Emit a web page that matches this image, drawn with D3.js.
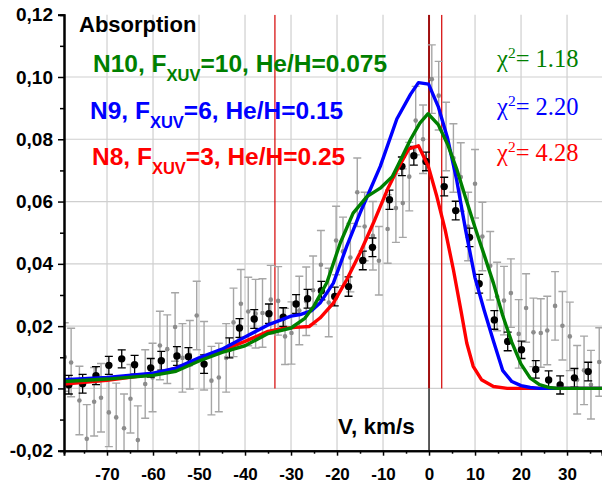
<!DOCTYPE html>
<html><head><meta charset="utf-8">
<script src="https://cdn.jsdelivr.net/npm/d3@7"></script>
<style>
html,body{margin:0;padding:0;background:#fff;}
svg{display:block;}
</style></head>
<body>
<div id="chart"></div>
<script>
// ---- data ----
const xTicks = [-70, -60, -50, -40, -30, -20, -10, 0, 10, 20, 30];
const yTicks = [-0.02, 0.00, 0.02, 0.04, 0.06, 0.08, 0.10, 0.12];

// observed (gray, individual)
const grayV = [-79.2, -77.8, -76.0, -74.4, -72.8, -71.3, -69.6, -68.0, -66.3, -64.9, -63.3, -61.7, -60.1, -58.5, -56.9, -55.2, -53.6, -52.0, -50.5, -48.9, -47.3, -45.7, -44.1, -42.5, -40.9, -39.3, -37.7, -36.2, -34.4, -32.8, -31.3, -29.9, -28.2, -26.7, -25.2, -23.5, -21.8, -20.2, -18.7, -17.1, -15.6, -14.0, -12.2, -10.9, -9.0, -7.2, -5.7, -4.3, -2.9, -1.3, 0.6, 2.1, 3.7, 5.3, 6.9, 8.5, 10.0, 11.6, 13.3, 14.8, 16.3, 17.8, 19.5, 21.1, 22.7, 24.3, 25.7, 27.4, 29.0, 30.6, 32.2, 33.7, 35.2, 37.0];
const grayA = [0.0101, 0.0083, -0.0039, -0.0162, -0.0043, -0.0030, -0.0077, -0.0093, -0.0128, -0.0033, -0.0166, 0.0014, 0.0035, 0.0138, 0.0126, 0.0197, 0.0098, 0.0108, 0.0234, 0.0105, 0.0025, 0.0035, 0.0098, 0.0212, 0.0272, 0.0247, 0.0240, 0.0242, 0.0285, 0.0281, 0.0167, 0.0178, 0.0250, 0.0280, 0.0315, 0.0397, 0.0276, 0.0475, 0.0440, 0.0420, 0.0630, 0.0520, 0.0490, 0.0410, 0.0512, 0.0579, 0.0595, 0.0680, 0.0860, 0.0800, 0.0993, 0.0940, 0.0809, 0.0740, 0.0679, 0.0520, 0.0657, 0.0488, 0.0394, 0.0295, 0.0282, 0.0306, 0.0175, 0.0258, 0.0180, 0.0178, 0.0186, 0.0265, 0.0201, 0.0167, 0.0028, 0.0058, 0.0012, 0.0085];
const grayErr = [0.011, 0.011, 0.011, 0.011, 0.011, 0.011, 0.011, 0.011, 0.011, 0.011, 0.011, 0.011, 0.011, 0.011, 0.011, 0.011, 0.011, 0.011, 0.011, 0.011, 0.011, 0.011, 0.011, 0.011, 0.011, 0.011, 0.011, 0.011, 0.011, 0.011, 0.009, 0.010, 0.011, 0.011, 0.011, 0.011, 0.011, 0.011, 0.011, 0.011, 0.011, 0.011, 0.011, 0.011, 0.011, 0.011, 0.011, 0.011, 0.011, 0.011, 0.011, 0.011, 0.011, 0.011, 0.011, 0.011, 0.011, 0.011, 0.011, 0.011, 0.011, 0.011, 0.011, 0.011, 0.011, 0.011, 0.011, 0.011, 0.011, 0.011, 0.011, 0.011, 0.011, 0.011];

// observed (black, binned)
const blackV = [-78.3, -75.3, -72.4, -69.6, -66.8, -64.0, -60.5, -58.2, -54.8, -52.3, -48.9, -43.4, -41.2, -38.0, -34.8, -31.7, -28.9, -26.4, -23.4, -20.5, -17.5, -14.4, -12.3, -8.6, -5.9, -3.3, -0.65, 3.3, 5.8, 8.8, 10.9, 14.2, 17.1, 20.1, 23.2, 26.0, 28.5, 31.6, 34.6];
const blackA = [0.0012, 0.0015, 0.0041, 0.0074, 0.0095, 0.0076, 0.0066, 0.0089, 0.0104, 0.0102, 0.0078, 0.0130, 0.0194, 0.0223, 0.0240, 0.0229, 0.0271, 0.0288, 0.0314, 0.0295, 0.0327, 0.0411, 0.0453, 0.0606, 0.0713, 0.0747, 0.0729, 0.0648, 0.0571, 0.0485, 0.0336, 0.0220, 0.0151, 0.0124, 0.0061, 0.0027, 0.0011, 0.0034, 0.0054];
const blackErr = [0.0030, 0.0030, 0.0029, 0.0029, 0.0029, 0.0030, 0.0030, 0.0030, 0.0030, 0.0029, 0.0030, 0.0032, 0.0030, 0.0030, 0.0031, 0.0030, 0.0030, 0.0030, 0.0030, 0.0030, 0.0031, 0.0030, 0.0030, 0.0031, 0.0030, 0.0030, 0.0030, 0.0030, 0.0030, 0.0030, 0.0030, 0.0030, 0.0030, 0.0028, 0.0028, 0.0029, 0.0029, 0.0030, 0.0030];

// models
const n10V = [-79.3, -70, -60, -55, -50, -45, -40, -35, -30, -27, -25, -22.2, -19.3, -16.5, -13.5, -10.6, -8, -6.7, -4, -2, -0.2, 2, 4, 6, 8, 10, 12, 14, 16, 18, 20, 22, 24, 26, 28, 38];
const n10A = [0.0022, 0.0030, 0.0042, 0.0055, 0.0088, 0.0116, 0.0137, 0.0176, 0.0194, 0.0225, 0.0265, 0.0340, 0.0467, 0.0563, 0.0616, 0.0643, 0.0680, 0.0718, 0.0800, 0.0852, 0.0882, 0.0847, 0.0785, 0.0705, 0.0610, 0.0517, 0.0428, 0.0338, 0.0235, 0.0148, 0.0078, 0.0033, 0.0012, 0.0003, 0.0000, 0.0000];
const n9V = [-79.3, -70, -60, -55, -50, -45, -40, -35, -30, -28, -25.5, -23.7, -20.8, -17.9, -15, -12.8, -10.6, -7, -4, -2.3, -0.1, 2, 4, 6, 8, 10, 12, 14, 16, 18, 20, 22, 24, 38];
const n9A = [0.0028, 0.0035, 0.0049, 0.0065, 0.0098, 0.0126, 0.0165, 0.0204, 0.0232, 0.0237, 0.0250, 0.0274, 0.0338, 0.0456, 0.0563, 0.0638, 0.0713, 0.0865, 0.0945, 0.0982, 0.0977, 0.0905, 0.0805, 0.0670, 0.0505, 0.0355, 0.0250, 0.0152, 0.0058, 0.0022, 0.0009, 0.0003, 0.0000, 0.0000];
const n8V = [-79.3, -70, -60, -55, -50, -45, -40, -35, -32, -29, -26, -23.7, -20.8, -17.9, -15, -12.1, -10.6, -9, -7, -4.4, -2.3, -0.15, 1.7, 3.5, 5.3, 7.0, 8.2, 9.6, 11.4, 14, 17, 38];
const n8A = [0.0014, 0.0026, 0.0045, 0.0065, 0.0093, 0.0122, 0.0151, 0.0183, 0.0192, 0.0196, 0.0199, 0.0226, 0.0274, 0.0349, 0.0435, 0.0531, 0.0584, 0.0640, 0.0700, 0.0769, 0.0779, 0.0713, 0.0616, 0.0510, 0.0381, 0.0245, 0.0146, 0.0071, 0.0028, 0.0006, 0.0000, 0.0000];

const markerV = [-33.5, 2.76];
// ---- drawing ----
const W = 602, H = 486;
const svg = d3.select("#chart").append("svg").attr("width", W).attr("height", H);
const x = d3.scaleLinear().domain([-79.35, 37.6]).range([64, 602]);
const y = d3.scaleLinear().domain([-0.02, 0.12]).range([450.7, 14.7]);
const x0 = x.range()[0], x1 = x.range()[1], yTop = y.range()[1], yBot = y.range()[0];

svg.append("defs").append("clipPath").attr("id", "clip")
  .append("rect").attr("x", x0).attr("y", yTop).attr("width", x1 - x0).attr("height", yBot - yTop);

// grid
const grid = svg.append("g");
grid.selectAll("line.v").data(xTicks).join("line")
  .attr("x1", d => x(d)).attr("x2", d => x(d)).attr("y1", yTop).attr("y2", yBot)
  .attr("stroke", "#cfcfcf").attr("stroke-width", 1.2);
grid.selectAll("line.h").data(yTicks.filter(d => d > -0.02 && d < 0.12)).join("line")
  .attr("x1", x0).attr("x2", x1).attr("y1", d => y(d)).attr("y2", d => y(d))
  .attr("stroke", "#cfcfcf").attr("stroke-width", 1.2);

const plot = svg.append("g").attr("clip-path", "url(#clip)");

// vertical marker lines
plot.selectAll("line.mk").data(markerV).join("line").attr("class", "mk")
  .attr("x1", d => x(d)).attr("x2", d => x(d)).attr("y1", yTop).attr("y2", y(0))
  .attr("stroke", "#d40000").attr("stroke-width", 1.2);
plot.append("line").attr("x1", x(0)).attr("x2", x(0)).attr("y1", yTop).attr("y2", y(0))
  .attr("stroke", "#a01010").attr("stroke-width", 2);
plot.append("line").attr("x1", x(0)).attr("x2", x(0)).attr("y1", y(0)).attr("y2", yBot)
  .attr("stroke", "#000").attr("stroke-width", 1.2);

// gray points
const gray = grayV.map((v, i) => ({v, a: grayA[i], e: grayErr[i]}));
const gg = plot.append("g");
const capW = 4;
gg.selectAll("g").data(gray).join("g").each(function(d) {
  const g = d3.select(this), cx = x(d.v), lo = y(d.a - d.e), hi = y(d.a + d.e);
  g.append("line").attr("x1", cx).attr("x2", cx).attr("y1", lo).attr("y2", hi);
  g.append("line").attr("x1", cx - capW).attr("x2", cx + capW).attr("y1", lo).attr("y2", lo);
  g.append("line").attr("x1", cx - capW).attr("x2", cx + capW).attr("y1", hi).attr("y2", hi);
  g.append("circle").attr("cx", cx).attr("cy", y(d.a)).attr("r", 2.3).attr("fill", "#8c8c8c").attr("stroke", "none");
}).selectAll("line").attr("stroke", "#a6a6a6").attr("stroke-width", 1.4);

// black points
const black = blackV.map((v, i) => ({v, a: blackA[i], e: blackErr[i]}));
const bg = plot.append("g");
bg.selectAll("g").data(black).join("g").each(function(d) {
  const g = d3.select(this), cx = x(d.v), lo = y(d.a - d.e), hi = y(d.a + d.e);
  g.append("line").attr("x1", cx).attr("x2", cx).attr("y1", lo).attr("y2", hi);
  g.append("line").attr("x1", cx - capW).attr("x2", cx + capW).attr("y1", lo).attr("y2", lo);
  g.append("line").attr("x1", cx - capW).attr("x2", cx + capW).attr("y1", hi).attr("y2", hi);
  g.append("circle").attr("cx", cx).attr("cy", y(d.a)).attr("r", 3.7).attr("fill", "#000");
}).selectAll("line").attr("stroke", "#000").attr("stroke-width", 1.3);

// model curves
const line = d3.line().x(d => x(d[0])).y(d => y(d[1]));
const models = [
  {V: n8V, A: n8A, c: "#ff0000"},
  {V: n9V, A: n9A, c: "#0000ff"},
  {V: n10V, A: n10A, c: "#008000"}
];
plot.selectAll("path.m").data(models).join("path")
  .attr("d", m => line(m.V.map((v, i) => [v, m.A[i]])))
  .attr("fill", "none").attr("stroke", m => m.c).attr("stroke-width", 3.4)
  .attr("stroke-linejoin", "round");

// axes
const fmtY = d => d3.format(".2f")(d).replace("−", "-").replace(".", ",");
const yAxis = svg.append("g").attr("transform", `translate(${x0},0)`)
  .call(d3.axisLeft(y).tickValues(yTicks).tickFormat(fmtY).tickSize(6).tickPadding(5));
const yMinor = svg.append("g").attr("transform", `translate(${x0},0)`)
  .call(d3.axisLeft(y).tickValues(d3.range(-0.01, 0.12, 0.02)).tickFormat("").tickSize(4));
const xAxis = svg.append("g").attr("transform", `translate(0,${yBot})`)
  .call(d3.axisBottom(x).tickValues(xTicks).tickFormat(d => String(d)).tickSize(5).tickPadding(12));
const xMinor = svg.append("g").attr("transform", `translate(0,${yBot})`)
  .call(d3.axisBottom(x).tickValues(d3.range(-75, 40, 10)).tickFormat("").tickSize(3));
[yAxis, yMinor, xAxis, xMinor].forEach(a => {
  a.select(".domain").attr("stroke", "#000").attr("stroke-width", 2);
  a.selectAll(".tick line").attr("stroke", "#000").attr("stroke-width", 1.5);
});
yAxis.selectAll("text").attr("font-family", "Liberation Sans, Arial, sans-serif")
  .attr("font-weight", "bold").attr("font-size", 19).attr("fill", "#000");
xAxis.selectAll("text").attr("font-family", "Liberation Sans, Arial, sans-serif")
  .attr("font-weight", "bold").attr("font-size", 17).attr("fill", "#000");

// labels
const sans = "Liberation Sans, Arial, sans-serif";
svg.append("text").attr("x", 79).attr("y", 31.5).attr("font-family", sans).attr("font-weight", "bold")
  .attr("font-size", 22).attr("fill", "#000").text("Absorption");
svg.append("text").attr("x", 338).attr("y", 434).attr("font-family", sans).attr("font-weight", "bold")
  .attr("font-size", 22.5).attr("fill", "#000").text("V, km/s");

const legend = [
  {pre: "N10, F", post: "=10, He/H=0.075", c: "#008000", x: 93, y: 71.5, chi: "1.18"},
  {pre: "N9, F", post: "=6, He/H=0.15", c: "#0000ff", x: 90, y: 119, chi: "2.20"},
  {pre: "N8, F", post: "=3, He/H=0.25", c: "#ff0000", x: 92, y: 165, chi: "4.28"}
];
legend.forEach(l => {
  const t = svg.append("text").attr("x", l.x).attr("y", l.y).attr("font-family", sans)
    .attr("font-weight", "bold").attr("font-size", 24.5).attr("fill", l.c);
  t.append("tspan").text(l.pre);
  t.append("tspan").attr("dy", 9).attr("font-size", 16.5).text("XUV");
  t.append("tspan").attr("dy", -9).text(l.post);
  const c = svg.append("text").attr("x", 497).attr("y", l.y - 4.5).attr("font-family", "Liberation Serif, Times New Roman, serif")
    .attr("font-size", 24.5).attr("fill", l.c);
  c.append("tspan").text("χ");
  c.append("tspan").attr("dy", -9).attr("font-size", 15.5).text("2");
  c.append("tspan").attr("dy", 9).text("= " + l.chi);
});
</script>
</body></html>
